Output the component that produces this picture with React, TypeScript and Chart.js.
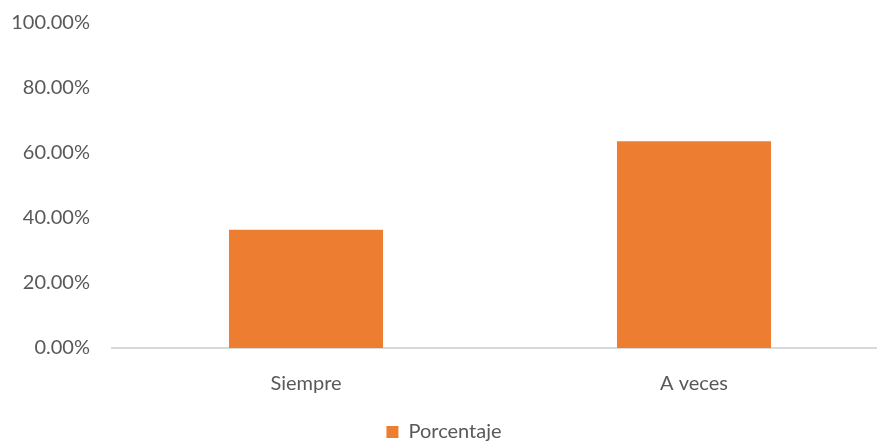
import React, { useEffect, useRef } from "react";
import { Chart, registerables } from "chart.js";

Chart.register(...registerables);

// Response categories and their share of answers (%)
const categories: string[] = ["Siempre", "A veces"];
const porcentaje: number[] = [36.36, 63.64];
const seriesName = "Porcentaje";

// Y axis range and tick step (%)
const yMin = 0;
const yMax = 100;
const yStep = 20;

const TEXT = "#595959";
const FONT = "Lato, 'Open Sans', sans-serif";
const BAR = "#ED7D31";
const W = 912;
const H = 455;

export default function App() {
  const canvasRef = useRef<HTMLCanvasElement | null>(null);

  useEffect(() => {
    document.body.style.margin = "0";
    document.body.style.overflow = "hidden";
    const canvas = canvasRef.current;
    if (!canvas) return;

    const chart = new Chart(canvas, {
      type: "bar",
      data: {
        labels: categories,
        datasets: [
          {
            label: seriesName,
            data: porcentaje,
            backgroundColor: BAR,
            borderWidth: 0,
            categoryPercentage: 1,
            barPercentage: 0.397,
          },
        ],
      },
      options: {
        responsive: false,
        animation: false,
        maintainAspectRatio: false,
        layout: { padding: { top: 8, right: 24, left: 0, bottom: 0 } },
        scales: {
          x: {
            grid: { display: false },
            border: { display: true, color: "#d9d9d9", width: 2 },
            ticks: {
              color: TEXT,
              font: { family: FONT, size: 20 },
              padding: 16,
            },
          },
          y: {
            min: yMin,
            max: yMax,
            grid: { display: false },
            border: { display: false },
            afterFit: (scale: any) => {
              scale.width = 112;
            },
            ticks: {
              stepSize: yStep,
              color: TEXT,
              padding: 14,
              font: { family: FONT, size: 20 },
              callback: (v: any) => Number(v).toFixed(2) + "%",
            },
          },
        },
        plugins: {
          tooltip: { enabled: false },
          legend: {
            position: "bottom",
            labels: {
              color: TEXT,
              boxWidth: 12,
              boxHeight: 12,
              padding: 10,
              font: { family: FONT, size: 20 },
            },
          },
        },
      },
    });

    return () => chart.destroy();
  }, []);

  return (
    <div style={{ position: "fixed", left: 0, top: -3, width: W, height: H, background: "#fff" }}>
      <canvas ref={canvasRef} width={W} height={H} style={{ width: W, height: H }} />
    </div>
  );
}
